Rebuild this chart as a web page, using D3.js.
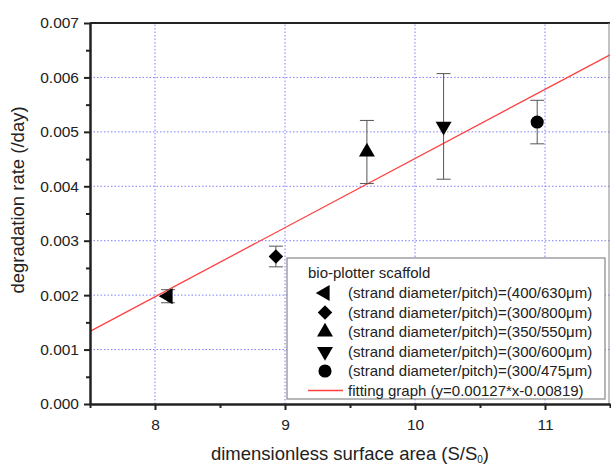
<!DOCTYPE html>
<html>
<head>
<meta charset="utf-8">
<script src="https://cdn.jsdelivr.net/npm/d3@7"></script>
<style>
  html, body { margin: 0; padding: 0; background: #fff; }
  svg { display: block; font-family: "Liberation Sans", Arial, sans-serif; }
</style>
</head>
<body>
<div id="chart"></div>
<script>
// 測定点（x = 無次元表面積, y = 分解速度, err = 誤差）
var POINT_X   = [8.10, 8.93, 9.63, 10.22, 10.94];
var POINT_Y   = [0.00198, 0.00271, 0.00463, 0.00510, 0.00518];
var POINT_ERR = [0.00012, 0.00019, 0.00058, 0.00097, 0.00040];
var SHAPES    = ['left', 'diamond', 'up', 'down', 'circle'];
var LABELS    = ['(strand diameter/pitch)=(400/630\u03bcm)',
                 '(strand diameter/pitch)=(300/800\u03bcm)',
                 '(strand diameter/pitch)=(350/550\u03bcm)',
                 '(strand diameter/pitch)=(300/600\u03bcm)',
                 '(strand diameter/pitch)=(300/475\u03bcm)'];
var FIT = [0.00127, -0.00819];
var X_TICKS = [8, 9, 10, 11];
var Y_TICKS = [0, 0.001, 0.002, 0.003, 0.004, 0.005, 0.006, 0.007];

var W = 611, H = 466;
var ml = 90, mr = 1, mt = 23, mb = 62;
var FONT = '"Liberation Sans", Arial, sans-serif';
var svg = d3.select('#chart').append('svg').attr('width', W).attr('height', H);

var x = d3.scaleLinear().domain([7.5, 11.5]).range([ml, W - mr]);
var y = d3.scaleLinear().domain([0, 0.007]).range([H - mb, mt]);

// grid
var grid = svg.append('g').attr('stroke', '#7f7fff').attr('stroke-width', 1)
    .attr('stroke-dasharray', '1.5,2');
X_TICKS.forEach(function (t) {
  grid.append('line').attr('x1', x(t)).attr('x2', x(t)).attr('y1', y(0)).attr('y2', y(0.007));
});
Y_TICKS.slice(1, -1).forEach(function (t) {
  grid.append('line').attr('x1', x(7.5)).attr('x2', x(11.5)).attr('y1', y(t)).attr('y2', y(t));
});

// fit line
svg.append('line')
  .attr('x1', x(7.5)).attr('y1', y(FIT[0] * 7.5 + FIT[1]))
  .attr('x2', x(11.5)).attr('y2', y(FIT[0] * 11.5 + FIT[1]))
  .attr('stroke', '#ff4040').attr('stroke-width', 1.3);

function sym(shape) {
  if (shape === 'circle') return d3.symbol(d3.symbolCircle, 135)();
  if (shape === 'diamond') return d3.symbol(d3.symbolSquare, 105)();
  return d3.symbol(d3.symbolTriangle, 110)();
}
function rot(shape) {
  return { left: -90, down: 180, diamond: 45, up: 0, circle: 0 }[shape];
}

// error bars
var eb = svg.append('g').attr('stroke', '#555').attr('stroke-width', 1);
POINT_X.forEach(function (px, i) {
  var cx = x(px), y0 = y(POINT_Y[i] - POINT_ERR[i]), y1 = y(POINT_Y[i] + POINT_ERR[i]);
  eb.append('line').attr('x1', cx).attr('x2', cx).attr('y1', y0).attr('y2', y1);
  eb.append('line').attr('x1', cx - 7).attr('x2', cx + 7).attr('y1', y0).attr('y2', y0);
  eb.append('line').attr('x1', cx - 7).attr('x2', cx + 7).attr('y1', y1).attr('y2', y1);
});

// markers
POINT_X.forEach(function (px, i) {
  svg.append('path').attr('d', sym(SHAPES[i])).attr('fill', '#000')
    .attr('transform', 'translate(' + x(px) + ',' + y(POINT_Y[i]) + ') rotate(' + rot(SHAPES[i]) + ')');
});

// frame / axes
svg.append('line').attr('x1', ml).attr('x2', W - mr).attr('y1', mt).attr('y2', mt)
  .attr('stroke', '#222').attr('stroke-width', 2);
svg.append('line').attr('x1', W - mr - 1).attr('x2', W - mr - 1).attr('y1', mt).attr('y2', y(0))
  .attr('stroke', '#888').attr('stroke-width', 1);

var yAxis = svg.append('g').attr('transform', 'translate(' + ml + ',0)')
  .call(d3.axisLeft(y).tickValues(Y_TICKS).tickFormat(d3.format('.3f')).tickSize(6).tickSizeOuter(0));
var yMinor = svg.append('g').attr('transform', 'translate(' + ml + ',0)')
  .call(d3.axisLeft(y).tickValues(d3.range(7).map(function (k) { return k * 0.001 + 0.0005; }))
    .tickFormat('').tickSize(4).tickSizeOuter(0));
var xAxis = svg.append('g').attr('transform', 'translate(0,' + y(0) + ')')
  .call(d3.axisBottom(x).tickValues(X_TICKS).tickFormat(d3.format('d')).tickSize(6).tickSizeOuter(0));
var xMinor = svg.append('g').attr('transform', 'translate(0,' + y(0) + ')')
  .call(d3.axisBottom(x).tickValues([7.5, 8.5, 9.5, 10.5, 11.5]).tickFormat('').tickSize(4).tickSizeOuter(0));

[yAxis, yMinor, xAxis, xMinor].forEach(function (g) {
  g.selectAll('.domain').attr('stroke', '#222').attr('stroke-width', 2);
  g.selectAll('.tick line').attr('stroke', '#222').attr('stroke-width', 2);
  g.selectAll('text').attr('font-family', FONT).attr('font-size', 15.5).attr('fill', '#222');
});
yAxis.selectAll('text').attr('x', -11);
xAxis.selectAll('text').attr('y', 15);

// axis titles
svg.append('text').attr('transform', 'translate(24,200) rotate(-90)')
  .attr('text-anchor', 'middle').attr('font-size', 18.5).attr('fill', '#222')
  .text('degradation rate (/day)');
var xt = svg.append('text').attr('x', 350).attr('y', 460)
  .attr('text-anchor', 'middle').attr('font-size', 18.5).attr('fill', '#222');
xt.append('tspan').text('dimensionless surface area (S/S');
xt.append('tspan').attr('font-size', 10).attr('dy', 3).text('0');
xt.append('tspan').attr('dy', -3).text(')');

// legend
var lg = svg.append('g').attr('transform', 'translate(287,258)');
lg.append('rect').attr('width', 318).attr('height', 141)
  .attr('fill', '#fff').attr('stroke', '#888').attr('stroke-width', 1.2);
lg.append('text').attr('x', 21).attr('y', 20).attr('font-size', 15).attr('fill', '#222')
  .text('bio-plotter scaffold');
LABELS.forEach(function (lab, i) {
  var ty = 40 + i * 19.5;
  lg.append('path').attr('d', sym(SHAPES[i])).attr('fill', '#000')
    .attr('transform', 'translate(38,' + (ty - 5) + ') rotate(' + rot(SHAPES[i]) + ')');
  lg.append('text').attr('x', 61).attr('y', ty).attr('font-size', 15).attr('fill', '#222').text(lab);
});
var fy = 40 + 5 * 19.5;
lg.append('line').attr('x1', 21).attr('x2', 56).attr('y1', fy - 5).attr('y2', fy - 5)
  .attr('stroke', '#ff4040').attr('stroke-width', 1.5);
lg.append('text').attr('x', 61).attr('y', fy).attr('font-size', 15).attr('fill', '#222')
  .text('fitting graph (y=0.00127*x-0.00819)');
</script>
</body>
</html>
